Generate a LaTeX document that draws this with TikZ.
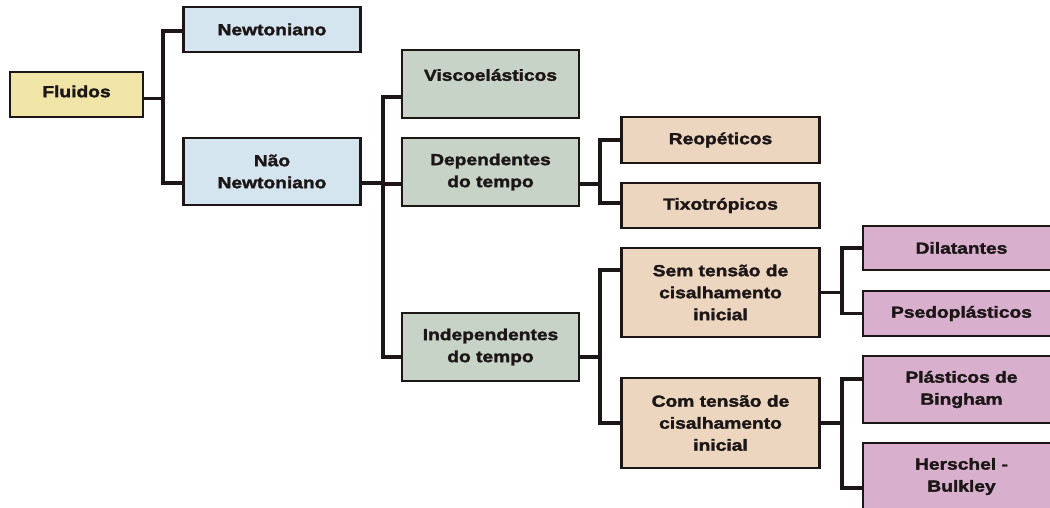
\documentclass[tikz,border=0pt]{standalone}
\usepackage{fontspec}
\newfontfamily\boxfont[FakeStretch=1.2,FakeBold=2]{Liberation Sans Bold}
\definecolor{cyel}{RGB}{240,229,166}
\definecolor{cblue}{RGB}{212,229,239}
\definecolor{cgreen}{RGB}{199,211,199}
\definecolor{ctan}{RGB}{236,214,192}
\definecolor{cpur}{RGB}{216,176,206}
\definecolor{cline}{RGB}{28,22,22}
\begin{document}
\begin{tikzpicture}[x=1pt,y=-1pt,
  box/.style={draw=cline,line width=2.4pt,inner sep=0pt,align=center,
    text=cline,font=\boxfont\fontsize{16}{22}\selectfont},
  conn/.style={draw=cline,line width=3.4pt,line join=miter,line cap=rect}]
\useasboundingbox (0,0) rectangle (1050,508);
\clip (0,0) rectangle (1050,508);
\fill[white] (0,0) rectangle (1050,508);
% branch x positions
\coordinate (b1) at (163,0);
\coordinate (b2) at (383,0);
\coordinate (b3) at (600,0);
\coordinate (b4) at (842,0);
% nodes
\node[box,fill=cyel,minimum width=133,minimum height=45] (fl) at (76.5,94.5) {\raisebox{3pt}[\height][\depth]{Fluidos}};
\node[box,fill=cblue,minimum width=177,minimum height=45] (newt) at (272,29.5) {Newtoniano};
\node[box,fill=cblue,minimum width=177,minimum height=67] (nn) at (272,171.5) {Não\\Newtoniano};
\node[box,fill=cgreen,minimum width=177,minimum height=68] (visc) at (490.5,84) {\raisebox{9pt}[\height][\depth]{Viscoelásticos}};
\node[box,fill=cgreen,minimum width=177,minimum height=68] (dep) at (490.5,172) {Dependentes\\do tempo};
\node[box,fill=cgreen,minimum width=177,minimum height=68] (ind) at (490.5,347) {Independentes\\do tempo};
\node[box,fill=ctan,minimum width=198,minimum height=46] (reo) at (720.5,140) {Reopéticos};
\node[box,fill=ctan,minimum width=198,minimum height=45] (tix) at (720.5,205.5) {Tixotrópicos};
\node[box,fill=ctan,minimum width=198,minimum height=89] (sem) at (720.5,292.5) {Sem tensão de\\cisalhamento\\inicial};
\node[box,fill=ctan,minimum width=198,minimum height=90] (com) at (720.5,423) {Com tensão de\\cisalhamento\\inicial};
\node[box,fill=cpur,minimum width=197,minimum height=44] (dil) at (961.5,248) {Dilatantes};
\node[box,fill=cpur,minimum width=197,minimum height=45] (pse) at (961.5,313.5) {Psedoplásticos};
\node[box,fill=cpur,minimum width=197,minimum height=67] (pla) at (961.5,389.5) {Plásticos de\\Bingham};
\node[box,fill=cpur,minimum width=197,minimum height=67] (her) at (961.5,476.5) {Herschel -\\Bulkley};
% connectors level 1
\draw[conn] ([yshift=-1.5pt]newt.west) -- ([yshift=-1.5pt]newt.west -| b1) |- ([yshift=-11.5pt]nn.west);
\draw[conn] ([yshift=-4pt]fl.east) -- ([yshift=-4pt]fl.east -| b1);
% level 2
\draw[conn] ([yshift=-13pt]visc.west) -- ([yshift=-13pt]visc.west -| b2) |- ([yshift=-10pt]ind.west);
\draw[conn] ([yshift=-12pt]dep.west) -- ([yshift=-12pt]dep.west -| b2);
\draw[conn] ([yshift=-11.5pt]nn.east) -- ([yshift=-11.5pt]nn.east -| b2);
% level 3 (dependentes)
\draw[conn] (reo.west) -- (reo.west -| b3) |- ([yshift=2.5pt]tix.west);
\draw[conn] ([yshift=-12pt]dep.east) -- ([yshift=-12pt]dep.east -| b3);
% level 3 (independentes)
\draw[conn] ([yshift=22.5pt]sem.west) -- ([yshift=22.5pt]sem.west -| b3) |- (com.west);
\draw[conn] ([yshift=-10pt]ind.east) -- ([yshift=-10pt]ind.east -| b3);
% level 4
\draw[conn] (dil.west) -- (dil.west -| b4) |- (pse.west);
\draw[conn] (sem.east) -- (sem.east -| b4);
\draw[conn] ([yshift=10.5pt]pla.west) -- ([yshift=10.5pt]pla.west -| b4) |- ([yshift=-11.5pt]her.west);
\draw[conn] (com.east) -- (com.east -| b4);
\end{tikzpicture}
\end{document}
